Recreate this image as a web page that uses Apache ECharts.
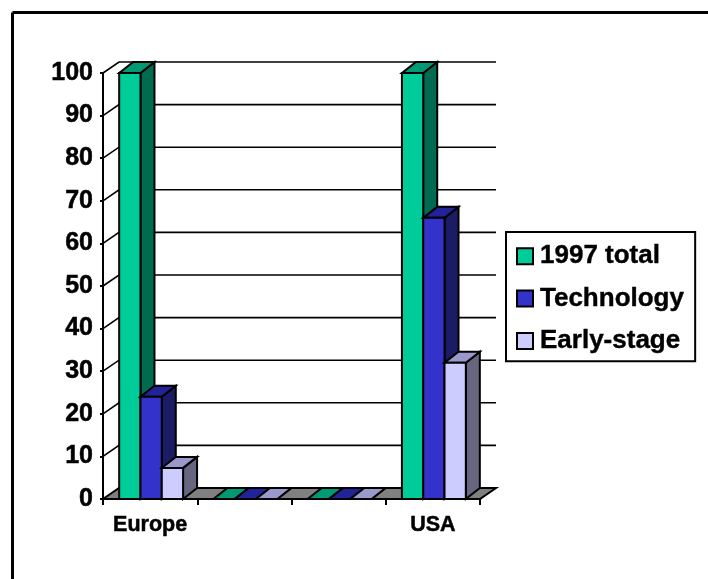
<!DOCTYPE html>
<html>
<head>
<meta charset="utf-8">
<style>html,body{margin:0;padding:0;background:#fff}#chart{width:708px;height:579px}</style>
<script src="https://cdn.jsdelivr.net/npm/echarts@6/dist/echarts.min.js"></script>
</head>
<body>
<div id="chart"></div>
<script>
const categories = ['Europe', '', '', 'USA'];
const yTicks = [0, 10, 20, 30, 40, 50, 60, 70, 80, 90, 100];
const total1997 = [100, 0, 0, 100];
const technology = [24, 0, 0, 66];
const earlyStage = [7.3, 0, 0, 32];

const seriesNames = ['1997 total', 'Technology', 'Early-stage'];
const seriesValues = [total1997, technology, earlyStage];
const frontColors = ['#00CC99', '#3333CC', '#CCCCFF'];
const topColors = ['#009973', '#222299', '#9999CC'];
const sideColors = ['#006B50', '#1B1B66', '#666680'];

const EDGE = { stroke: '#000', lineWidth: 2, lineJoin: 'miter' };
const BAR_DEPTH = [14, -11];
const WALL_DEPTH = [16, -11];
const BAR_SHARE = 0.226;
const BAR_SHIFT = 1;

function poly(points, fill) {
  return { type: 'polygon', shape: { points }, style: Object.assign({ fill }, EDGE) };
}

// Left and right ends of the plot in pixels at a given value.
function plotEnds(api, value) {
  const band = api.size([1, 0])[0];
  const left = api.coord([0, value]);
  const right = api.coord([categories.length - 1, value]);
  return [left[0] - band / 2, right[0] + band / 2, left[1]];
}

function renderFloor(params, api) {
  const [l, r, y] = plotEnds(api, 0);
  const [dx, dy] = WALL_DEPTH;
  return poly([[l, y], [r, y], [r + dx, y + dy], [l + dx, y + dy]], '#808080');
}

function renderGridline(params, api) {
  const [l, r, y] = plotEnds(api, api.value(0));
  const [dx, dy] = WALL_DEPTH;
  return {
    type: 'polyline',
    shape: { points: [[l, y], [l + dx, y + dy], [r + dx, y + dy]] },
    style: { fill: null, stroke: '#000', lineWidth: 1.6 }
  };
}

function makeBarRenderer(seriesIndex) {
  return function (params, api) {
    const base = api.coord([api.value(0), 0]);
    const top = api.coord([api.value(0), api.value(1)]);
    const w = api.size([1, 0])[0] * BAR_SHARE;
    const x0 = base[0] + BAR_SHIFT + (seriesIndex - 1.5) * w;
    const x1 = x0 + w;
    const [dx, dy] = BAR_DEPTH;
    const children = [
      poly([[x1, top[1]], [x1 + dx, top[1] + dy], [x1 + dx, base[1] + dy], [x1, base[1]]], sideColors[seriesIndex]),
      poly([[x0, top[1]], [x1, top[1]], [x1 + dx, top[1] + dy], [x0 + dx, top[1] + dy]], topColors[seriesIndex]),
      poly([[x0, top[1]], [x1, top[1]], [x1, base[1]], [x0, base[1]]], frontColors[seriesIndex])
    ];
    return { type: 'group', children };
  };
}

const chart = echarts.init(document.getElementById('chart'), null, { renderer: 'canvas' });

chart.setOption({
  animation: false,
  backgroundColor: '#fff',
  textStyle: { fontFamily: '"Liberation Sans", Arial, sans-serif' },
  grid: { left: 103, right: 228, top: 73, bottom: 80 },
  xAxis: {
    type: 'category',
    data: categories,
    boundaryGap: true,
    axisLine: { show: true, lineStyle: { color: '#000', width: 2 } },
    axisTick: { show: true, alignWithLabel: false, length: 6, lineStyle: { color: '#000', width: 2 } },
    axisLabel: {
      interval: 0, color: '#000', fontWeight: 'bold', fontSize: 21.5, margin: 15,
      textBorderColor: '#000', textBorderWidth: 0.5
    },
    splitLine: { show: false }
  },
  yAxis: {
    type: 'value',
    min: 0,
    max: 100,
    interval: 10,
    axisLine: { show: true, lineStyle: { color: '#000', width: 2 } },
    axisTick: { show: true, length: 3, lineStyle: { color: '#000', width: 2 } },
    axisLabel: {
      color: '#000', fontWeight: 'bold', fontSize: 25, margin: 10, padding: [4, 0, 0, 0],
      textBorderColor: '#000', textBorderWidth: 0.5
    },
    splitLine: { show: false }
  },
  legend: {
    left: 506,
    top: 232,
    orient: 'vertical',
    data: seriesNames.map((name, i) => ({
      name,
      icon: 'rect',
      itemStyle: { color: frontColors[i], borderColor: '#000', borderWidth: 2 }
    })),
    itemWidth: 16,
    itemHeight: 16,
    itemGap: 16,
    padding: [11, 11, 7, 10],
    backgroundColor: '#fff',
    borderColor: '#000',
    borderWidth: 2,
    borderRadius: 0,
    textStyle: {
      color: '#000', fontWeight: 'bold', fontSize: 26, padding: [0, 0, 0, 2],
      textBorderColor: '#000', textBorderWidth: 0.4
    },
    selectedMode: false
  },
  graphic: [
    { type: 'line', silent: true, z: 10, shape: { x1: 12.5, y1: 12.5, x2: 708, y2: 12.5 }, style: { stroke: '#000', lineWidth: 3 } },
    { type: 'line', silent: true, z: 10, shape: { x1: 12.5, y1: 12.5, x2: 12.5, y2: 579 }, style: { stroke: '#000', lineWidth: 3 } }
  ],
  series: [
    {
      type: 'custom',
      name: 'floor',
      z: 1,
      data: [[0]],
      encode: { y: 0 },
      renderItem: renderFloor
    },
    {
      type: 'custom',
      name: 'gridlines',
      z: 1,
      data: yTicks.slice(1).map(v => [v]),
      encode: { y: 0 },
      renderItem: renderGridline
    }
  ].concat(seriesValues.map((values, i) => ({
    type: 'custom',
    name: seriesNames[i],
    z: 3,
    itemStyle: { color: frontColors[i] },
    data: values.map((v, c) => [c, v]),
    encode: { x: 0, y: 1 },
    renderItem: makeBarRenderer(i)
  })))
});
</script>
</body>
</html>
